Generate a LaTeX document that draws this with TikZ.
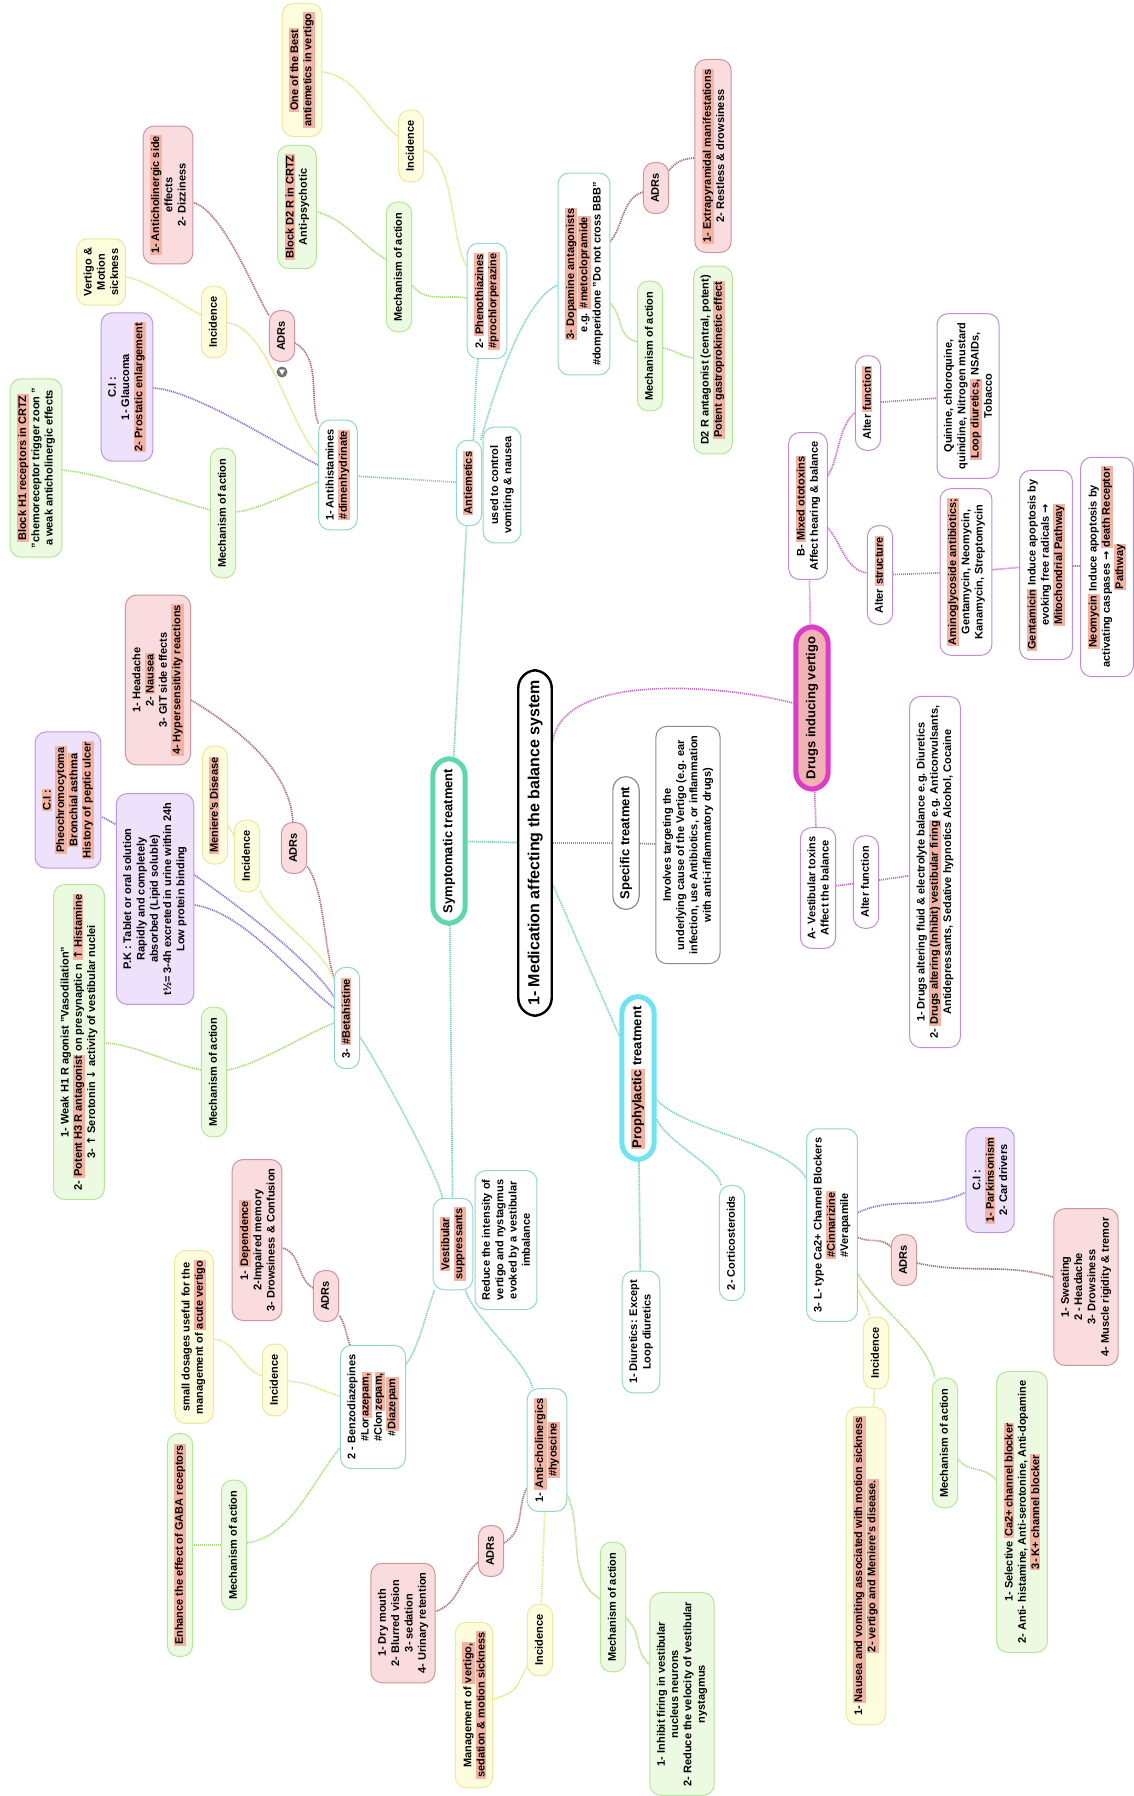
\documentclass[tikz,border=0pt]{standalone}
\usepackage{fontspec}
\setmainfont{Liberation Sans}
\newfontfamily\arrfont{DejaVu Sans}
\usetikzlibrary{calc}
\pgfdeclarelayer{paper}
\pgfdeclarelayer{links}
\pgfsetlayers{paper,links,main}
\definecolor{hlC}{RGB}{243,178,162}
\definecolor{yelF}{RGB}{253,252,220}
\definecolor{yelD}{RGB}{236,232,160}
\definecolor{grnF}{RGB}{236,250,226}
\definecolor{grnD}{RGB}{182,230,152}
\definecolor{pnkF}{RGB}{250,220,222}
\definecolor{pnkD}{RGB}{205,150,152}
\definecolor{purF}{RGB}{237,225,252}
\definecolor{purD}{RGB}{188,150,225}
\definecolor{teaD}{RGB}{145,215,205}
\definecolor{vioD}{RGB}{195,140,215}
\definecolor{symD}{RGB}{95,215,172}
\definecolor{proD}{RGB}{110,228,242}
\definecolor{druD}{RGB}{220,60,200}
\definecolor{druF}{RGB}{240,178,178}
\definecolor{cT}{RGB}{125,208,198}
\definecolor{cG}{RGB}{168,220,120}
\definecolor{cY}{RGB}{230,226,125}
\definecolor{cB}{RGB}{170,105,110}
\definecolor{cP}{RGB}{140,110,215}
\definecolor{cM}{RGB}{200,105,205}
\definecolor{cK}{RGB}{140,140,140}
\newcommand\mrk[1]{{\setlength{\fboxsep}{1pt}\colorbox{hlC}{#1}}}
\newcommand\rarr{{\arrfont\bfseries →}}
\newcommand\uarr{{\arrfont\bfseries ↑}}
\newcommand\darr{{\arrfont\bfseries ↓}}
\newcommand\lnk[6][22pt]{\draw[#2] (#3) .. controls ($(#4)!-#1!(#3)$) and ($(#6)!-#1!(#5)$) .. (#5);}
\tikzset{
  bx/.style={rotate=90, align=center, rounded corners=11pt, inner xsep=9pt, inner ysep=7pt,
    line width=1pt, font=\bfseries\fontsize{11}{13.3}\selectfont},
  oneline/.style={text height=8.5pt, text depth=2.7pt, inner xsep=10.5pt},
  yel/.style={bx, fill=yelF, draw=yelD},
  grn/.style={bx, fill=grnF, draw=grnD},
  pnk/.style={bx, fill=pnkF, draw=pnkD},
  pur/.style={bx, fill=purF, draw=purD},
  tea/.style={bx, fill=white, draw=teaD},
  vio/.style={bx, fill=white, draw=vioD},
  gry/.style={bx, fill=white, draw=cK},
  bigbox/.style={rotate=90, align=center, fill=white, rounded corners=17pt,
    font=\bfseries\fontsize{13}{15.6}\selectfont, inner xsep=10pt, inner ysep=10pt,
    text height=9.5pt, text depth=2.8pt, line width=5pt},
  rootn/.style={rotate=90, draw=black, fill=white, line width=2.4pt, rounded corners=18pt,
    font=\bfseries\fontsize{16}{19}\selectfont, inner xsep=10pt, inner ysep=9pt,
    text height=12pt, text depth=3.5pt},
  lnbase/.style={line width=1.7pt, dash pattern=on 1.1pt off 0.9pt},
  lnT/.style={lnbase, draw=cT},
  lnG/.style={lnbase, draw=cG},
  lnY/.style={lnbase, draw=cY},
  lnB/.style={lnbase, draw=cB},
  lnP/.style={lnbase, draw=cP},
  lnM/.style={lnbase, draw=cM},
  lnK/.style={lnbase, draw=cK},
}
\begin{document}
\begin{tikzpicture}[x=1pt,y=-1pt]
\begin{pgfonlayer}{paper}
\fill[white] (0,0) rectangle (1133,1796);
\end{pgfonlayer}
\useasboundingbox (0,0) rectangle (1133,1796);

% ---------- central ----------
\node[rootn] (root) at (535,843) {1- Medication affecting the balance system};
\node[bigbox, draw=symD] (symp) at (449,841) {Symptomatic treatment};
\node[bigbox, draw=proD] (proph) at (638,1078) {\mrk{Prophylactic} treatment};
\node[bigbox, draw=druD, fill=druF] (drugsind) at (812,708) {Drugs inducing vertigo};
\node[gry, line width=1.2pt, rounded corners=13pt, font=\bfseries\fontsize{13}{15.6}\selectfont,
  text height=9.5pt, text depth=2.8pt, inner xsep=10pt] (spec) at (626,843) {Specific treatment};
\node[gry] (inv) at (688,845) {Involves targeting the\\underlying cause of the Vertigo (e.g. ear\\infection, use Antibiotics, or inflammation\\with anti-inflammatory drugs)};

% ---------- antiemetics ----------
\node[tea, oneline] (antiem) at (469,483) {\mrk{Antiemetics}};
\node[tea] (used) at (502,485) {used to control\\vomiting \& nausea};
\node[tea] (ah) at (338,475) {1- Antihistamines\\\mrk{\#dimenhydrinate}};
\node[grn, oneline] (ahmoa) at (223,513) {Mechanism of action};
\node[grn] (blockh1) at (36,468) {\mrk{Block H1 receptors in CRTZ}\\"chemoreceptor trigger zoon "\\a weak anticholinergic effects};
\node[pur] (ahci) at (127,387) {C.I :\\1- Glaucoma\\\mrk{2- Prostatic enlargement}};
\node[yel, oneline] (ahinc) at (214,322) {Incidence};
\node[yel] (vms) at (101,272) {Vertigo \&\\Motion\\sickness};
\node[pnk, oneline] (ahadr) at (282,336) {ADRs};
\node[pnk] (antichol) at (168,195) {\mrk{1- Anticholinergic side}\\effects\\2- Dizziness};
\node[circle, fill=black!55, inner sep=0pt, minimum size=11pt] (icon) at (282,372) {};
\fill[white] (279,369.5) -- (285,369.5) -- (282,375) -- cycle;

\node[tea] (pheno) at (487,301) {2- \mrk{Phenothiazines}\\\mrk{\#prochlorperazine}};
\node[grn, oneline] (phmoa) at (399,267) {Mechanism of action};
\node[grn] (blockd2) at (297,207) {\mrk{Block D2 R in CRTZ}\\Anti-psychotic};
\node[yel, oneline] (phinc) at (411,146) {Incidence};
\node[yel] (best) at (302,70) {\mrk{One of the Best}\\\mrk{antiemetics in vertigo}};

\node[tea] (dopa) at (584,274) {\mrk{3- Dopamine antagonists}\\e.g. \mrk{\#metoclopramide}\\\#domperidone "Do not cross BBB"};
\node[pnk, oneline] (doadr) at (656,188) {ADRs};
\node[pnk] (epm) at (713,156) {\mrk{1- Extrapyramidal manifestations}\\2- Restless \& drowsiness};
\node[grn, oneline] (domoa) at (650,346) {Mechanism of action};
\node[grn] (d2ant) at (713,360) {D2 R antagonist (central, potent)\\\mrk{Potent gastroprokinetic effect}};

% ---------- drugs inducing vertigo ----------
\node[vio] (bmix) at (808,506) {B- \mrk{Mixed ototoxins}\\Affect hearing \& balance};
\node[vio, oneline] (baf) at (868,403) {Alter \mrk{function}};
\node[vio] (quin) at (968,396) {Quinine, chloroquine,\\quinidine, Nitrogen mustard\\\mrk{Loop diuretics,} NSAIDs,\\Tobacco};
\node[vio, oneline] (bas) at (880,575) {Alter \mrk{structure}};
\node[vio] (amino) at (966,572) {\mrk{Aminoglycoside antibiotics;}\\Gentamycin, Neomycin,\\Kanamycin, Streptomycin};
\node[vio] (genta) at (1046,565) {\mrk{Gentamicin} Induce apoptosis by\\evoking free radicals \rarr\\\mrk{Mitochondrial Pathway}};
\node[vio] (neo) at (1107,567) {\mrk{Neomycin} Induce apoptosis by\\activating caspases \rarr{} \mrk{death Receptor}\\\mrk{Pathway}};
\node[vio] (avt) at (818,888) {A- Vestibular toxins\\Affect the balance};
\node[vio, oneline] (aaf) at (866,882) {Alter function};
\node[vio] (dalt) at (935,872) {1- Drugs altering fluid \& electrolyte balance e.g. Diuretics\\2- \mrk{Drugs altering (Inhibit) vestibular firing} e.g. Anticonvulsants,\\Antidepressants, Sedative hypnotics Alcohol, Cocaine};

% ---------- vestibular suppressants ----------
\node[tea] (vest) at (453,1244) {\mrk{Vestibular}\\\mrk{suppressants}};
\node[tea] (reduce) at (506,1240) {Reduce the intensity of\\vertigo and nystagmus\\evoked by a vestibular\\imbalance};

\node[tea, oneline] (beta) at (347,1018) {3- \mrk{\#Betahistine}};
\node[pnk, oneline] (btadr) at (294,848) {ADRs};
\node[pnk] (head) at (158,680) {1- Headache\\2- \mrk{Nausea}\\3- GIT side effects\\\mrk{4- Hypersensitivity reactions}};
\node[yel, oneline] (btinc) at (247,856) {Incidence};
\node[yel, oneline] (men) at (215,805) {\mrk{Meniere's Disease}};
\node[pur] (btci) at (68,800) {\mrk{C.I :}\\\mrk{Pheochromocytoma}\\\mrk{Bronchial asthma}\\\mrk{History of peptic ulcer}};
\node[pur] (pk) at (155,899) {P.K : Tablet or oral solution\\Rapidly and completely\\absorbed (Lipid soluble)\\t½= 3-4h excreted in urine within 24h\\Low protein binding};
\node[grn, oneline] (btmoa) at (214,1072) {Mechanism of action};
\node[grn] (weak) at (79,1042) {1- Weak H1 R agonist "Vasodilation"\\2- \mrk{Potent H3 R antagonist} on presynaptic n \mrk{\uarr{} Histamine}\\3- \uarr{} Serotonin \darr{} activity of vestibular nuclei};

\node[tea] (benzo) at (373,1407) {2 - Benzodiazepines\\\#Lor\mrk{azepam,}\\\#Clon\mrk{zepam,}\\\#\mrk{Diazepam}};
\node[pnk, oneline] (bzadr) at (326,1296) {ADRs};
\node[pnk] (dep) at (257,1240) {1- \mrk{Dependence}\\2-Impaired memory\\3- Drowsiness \& Confusion};
\node[yel, oneline] (bzinc) at (275,1380) {Incidence};
\node[yel] (small) at (194,1337) {small dosages useful for the\\management of \mrk{acute vertigo}};
\node[grn, oneline] (bzmoa) at (234,1545) {Mechanism of action};
\node[grn, oneline] (gaba) at (180,1545) {\mrk{Enhance the effect of GABA receptors}};

\node[tea] (ac) at (547,1450) {1- \mrk{Anti-cholinergics}\\\mrk{\#hyoscine}};
\node[pnk, oneline] (acadr) at (491,1551) {ADRs};
\node[pnk] (dry) at (403,1623) {1- Dry mouth\\2- Blurred vision\\3- sedation\\4- Urinary retention};
\node[yel, oneline] (acinc) at (540,1640) {Incidence};
\node[yel] (mgmt) at (474,1705) {Management of \mrk{vertigo,}\\\mrk{sedation \& motion sickness}};
\node[grn, oneline] (acmoa) at (613,1607) {Mechanism of action};
\node[grn] (inh) at (682,1694) {1- Inhibit firing in vestibular\\nucleus neurons\\2- Reduce the velocity of vestibular\\nystagmus};

% ---------- prophylactic ----------
\node[tea] (diur) at (641,1332) {1- Diuretics: Except\\Loop diuretics};
\node[tea, oneline] (cort) at (732,1243) {2- Corticosteroids};
\node[tea] (ccb) at (832,1225) {3- L- type Ca2+ Channel Blockers\\\mrk{\#Cinnarizine}\\\#Verapamile};
\node[pur] (ccbci) at (990,1180) {C.I :\\\mrk{1- Parkinsonism}\\2- Car drivers};
\node[pnk, oneline] (ccbadr) at (904,1260) {ADRs};
\node[pnk] (sweat) at (1086,1287) {1- Sweating\\2 - Headache\\3- Drowsiness\\4- Muscle rigidity \& tremor};
\node[yel, oneline] (ccbinc) at (876,1353) {Incidence};
\node[yel] (naus) at (866,1566) {1- \mrk{Nausea and vomiting associated with motion sickness}\\\mrk{2- vertigo and Meniere's disease.}};
\node[grn, oneline] (ccbmoa) at (945,1443) {Mechanism of action};
\node[grn] (sel) at (1022,1512) {1- Selective \mrk{Ca2+ channel blocker}\\2- Anti- histamine, Anti-serotonine, Anti-dopamine\\\mrk{3- K+ channel blocker}};

% ---------- connectors ----------
\begin{pgfonlayer}{links}
\draw[lnT] (root) -- (symp);
\draw[lnM] (root) -- (spec);
\draw[lnK] (spec) -- (inv);
\lnk[70pt]{lnM}{root}{553,740}{drugsind}{793,703}
\lnk[20pt]{lnT}{root}{553,885}{proph}{618,1033}
\draw[lnT] (symp) -- (antiem);
\draw[lnT] (symp) -- (vest);
\draw[lnT] (antiem) -- (ah);
\lnk[20pt]{lnT}{antiem}{473,443}{pheno}{478,360}
\lnk[40pt]{lnT}{antiem}{480,443}{dopa}{558,285}
\lnk[30pt]{lnT}{vest}{443,1200}{beta}{360,1037}
\lnk[20pt]{lnT}{vest}{435,1289}{benzo}{407,1363}
\lnk[30pt]{lnT}{vest}{465,1288}{ac}{533,1390}
\draw[lnT] (proph) -- (diur);
\lnk[25pt]{lnT}{proph}{657,1120}{cort}{722,1190}
\lnk[40pt]{lnT}{proph}{657,1100}{ccb}{806,1178}
% antihistamines
\lnk{lnG}{ah}{318,482}{ahmoa}{236,512}
\lnk[40pt]{lnG}{ahmoa}{211,510}{blockh1}{62,470}
\lnk[40pt]{lnP}{ah}{318,465}{ahci}{153,388}
\lnk[40pt]{lnY}{ah}{318,455}{ahinc}{228,323}
\lnk{lnY}{ahinc}{201,315}{vms}{127,277}
\lnk[30pt]{lnB}{ah}{320,428}{ahadr}{295,343}
\lnk[30pt]{lnB}{ahadr}{270,317}{antichol}{195,203}
% phenothiazines
\lnk{lnG}{pheno}{467,298}{phmoa}{412,285}
\lnk[30pt]{lnG}{phmoa}{387,260}{blockd2}{317,212}
\lnk[35pt]{lnY}{pheno}{467,267}{phinc}{423,150}
\lnk[35pt]{lnY}{phinc}{399,137}{best}{322,72}
% dopamine
\lnk{lnB}{dopa}{610,242}{doadr}{643,192}
\lnk[12pt]{lnB}{doadr}{668,172}{epm}{693,158}
\lnk{lnG}{dopa}{610,303}{domoa}{637,342}
\lnk[12pt]{lnG}{domoa}{663,348}{d2ant}{694,358}
% drugs inducing vertigo
\draw[lnM] (drugsind) -- (bmix);
\lnk{lnM}{bmix}{827,477}{baf}{856,412}
\draw[lnM] (baf) -- (quin);
\lnk{lnM}{bmix}{827,527}{bas}{867,573}
\draw[lnM] (bas) -- (amino);
\draw[lnM] (amino) -- (genta);
\draw[lnM] (genta) -- (neo);
\draw[lnM] (drugsind) -- (avt);
\draw[lnM] (avt) -- (aaf);
\draw[lnM] (aaf) -- (dalt);
% betahistine
\lnk[30pt]{lnB}{beta}{333,975}{btadr}{307,866}
\lnk[55pt]{lnB}{btadr}{293,825}{head}{191,700}
\lnk[35pt]{lnY}{beta}{334,980}{btinc}{258,885}
\draw[lnY] (btinc) -- (men);
\lnk[60pt]{lnP}{beta}{334,997}{btci}{102,817}
\lnk[50pt]{lnP}{beta}{334,1008}{pk}{195,905}
\lnk[30pt]{lnG}{beta}{334,1023}{btmoa}{227,1070}
\lnk[30pt]{lnG}{btmoa}{202,1070}{weak}{105,1043}
% benzodiazepines
\lnk[15pt]{lnB}{benzo}{350,1345}{bzadr}{337,1312}
\lnk[20pt]{lnB}{bzadr}{313,1288}{dep}{283,1248}
\lnk[25pt]{lnY}{benzo}{339,1396}{bzinc}{287,1381}
\lnk[25pt]{lnY}{bzinc}{263,1376}{small}{213,1339}
\lnk[45pt]{lnG}{benzo}{339,1449}{bzmoa}{247,1543}
\draw[lnG] (bzmoa) -- (gaba);
% anticholinergics
\lnk[25pt]{lnB}{ac}{528,1486}{acadr}{504,1543}
\lnk[25pt]{lnB}{acadr}{477,1563}{dry}{437,1611}
\draw[lnY] (ac) -- (acinc);
\lnk[25pt]{lnY}{acinc}{527,1666}{mgmt}{494,1699}
\lnk[40pt]{lnG}{ac}{567,1494}{acmoa}{600,1599}
\lnk[20pt]{lnG}{acmoa}{627,1619}{inh}{648,1663}
% calcium channel blockers
\lnk[40pt]{lnP}{ccb}{857,1213}{ccbci}{964,1193}
\lnk[15pt]{lnB}{ccb}{857,1237}{ccbadr}{891,1247}
\lnk[50pt]{lnB}{ccbadr}{917,1263}{sweat}{1053,1277}
\lnk[15pt]{lnY}{ccb}{857,1287}{ccbinc}{870,1318}
\draw[lnY] (ccbinc) -- (naus);
\lnk[40pt]{lnG}{ccb}{857,1272}{ccbmoa}{935,1380}
\lnk[20pt]{lnG}{ccbmoa}{958,1459}{sel}{996,1480}
\end{pgfonlayer}
\end{tikzpicture}
\end{document}
